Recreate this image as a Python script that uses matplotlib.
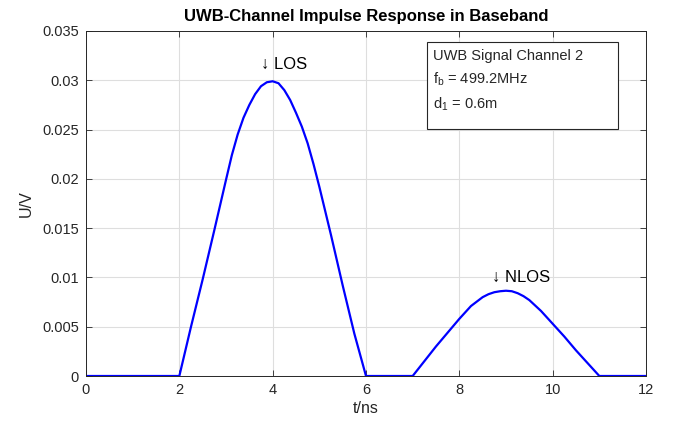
import matplotlib
matplotlib.use("Agg")
import matplotlib.pyplot as plt

plt.rcParams['font.family'] = ['Liberation Sans', 'DejaVu Sans']
plt.rcParams['mathtext.fontset'] = 'custom'
plt.rcParams['mathtext.rm'] = 'Liberation Sans'
plt.rcParams['mathtext.it'] = 'Liberation Sans'

# Data
t_ns = [0, 2.0, 2.25, 2.5, 2.75, 3.0, 3.125, 3.25, 3.375, 3.5, 3.625, 3.75,
        3.875, 4.0, 4.125, 4.25, 4.375, 4.5, 4.625, 4.75, 4.875, 5.0, 5.25,
        5.5, 5.75, 6.0,
        7.0, 7.25, 7.5, 7.75, 8.0, 8.25, 8.5, 8.625, 8.75, 8.875, 9.0, 9.125,
        9.25, 9.375, 9.5, 9.75, 10.0, 10.25, 10.5, 10.75, 11.0, 12.0]
u_v = [0, 0, 0.0050, 0.0098, 0.0148, 0.0199, 0.0224, 0.0245, 0.0262, 0.0275,
       0.0286, 0.0294, 0.0298, 0.0299, 0.0297, 0.0290, 0.0280, 0.0267, 0.0253,
       0.0236, 0.0215, 0.0192, 0.0143, 0.0092, 0.0043, 0,
       0, 0.0015, 0.0030, 0.0044, 0.0058, 0.0071, 0.0080, 0.0083, 0.0085,
       0.0086, 0.00865, 0.0086, 0.0084, 0.0081, 0.0077, 0.0066, 0.0053,
       0.0040, 0.0026, 0.0013, 0, 0]

xticks = [0, 2, 4, 6, 8, 10, 12]
yticks = [0, 0.005, 0.01, 0.015, 0.02, 0.025, 0.03, 0.035]
ytick_labels = ['0', '0.005', '0.01', '0.015', '0.02', '0.025', '0.03', '0.035']

fig = plt.figure(figsize=(6.83, 4.25), dpi=100)
ax = fig.add_axes([86/683, 1-376/425, 560/683, 345/425])

ax.plot(t_ns, u_v, color=(0, 0, 1), lw=1.6, solid_joinstyle='round')

ax.set_xlim(0, 12)
ax.set_ylim(0, 0.035)
ax.set_xticks(xticks)
ax.set_xticklabels([str(v) for v in xticks])
ax.set_yticks(yticks)
ax.set_yticklabels(ytick_labels)
ax.grid(True, color='#dedede', lw=0.8)
ax.set_axisbelow(True)
tc = '#262626'
ax.tick_params(direction='in', top=True, right=True, labelsize=10.5,
               colors=tc, length=4, width=0.6, pad=5)
for s in ax.spines.values():
    s.set_color(tc)
    s.set_linewidth(0.7)

ax.set_xlabel('t/ns', fontsize=11.5, color=tc, labelpad=3)
ax.set_ylabel('U/V', fontsize=11.5, color=tc, labelpad=6)
ax.set_title('UWB-Channel Impulse Response in Baseband', fontsize=12,
             fontweight='bold', color='black', pad=7)

ax.text(3.75, 0.0316, '\u2193 LOS', fontsize=12, va='center', ha='left',
        color='black')
ax.text(8.7, 0.0100, '\u2193 NLOS', fontsize=12, va='center', ha='left',
        color='black')

# annotation box
box = plt.Rectangle((427/683, 1-129/425), 191/683, 87/425,
                    transform=fig.transFigure, facecolor='white',
                    edgecolor='#262626', lw=0.8, zorder=5)
fig.patches.append(box)
fig.text(433/683, 1-56/425, 'UWB Signal Channel 2', fontsize=10.5,
         va='center', ha='left', color=tc, zorder=6)
fig.text(433/683, 1-79/425, r'f$_\mathrm{b}$ = 499.2MHz', fontsize=10.5,
         va='center', ha='left', color=tc, zorder=6)
fig.text(433/683, 1-104/425, r'd$_\mathrm{1}$ = 0.6m', fontsize=10.5,
         va='center', ha='left', color=tc, zorder=6)

fig.savefig('out.png', dpi=100, facecolor='white')
